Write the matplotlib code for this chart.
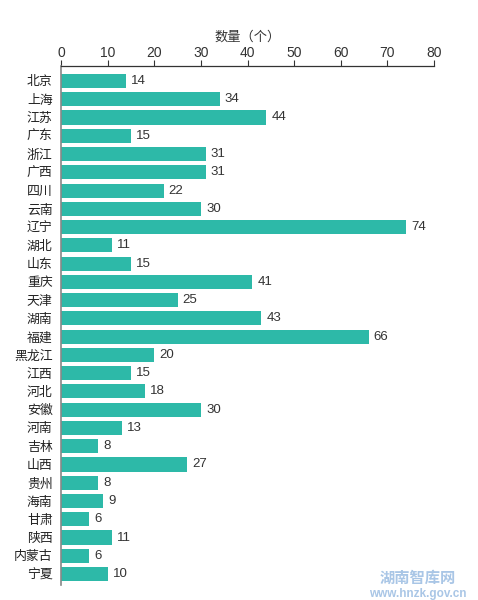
import matplotlib
matplotlib.use("Agg")
import matplotlib.pyplot as plt

plt.rcParams['font.family'] = ['Liberation Sans', 'Noto Sans CJK SC', 'DejaVu Sans']

provinces = ["北京", "上海", "江苏", "广东", "浙江", "广西", "四川", "云南", "辽宁", "湖北",
             "山东", "重庆", "天津", "湖南", "福建", "黑龙江", "江西", "河北", "安徽", "河南",
             "吉林", "山西", "贵州", "海南", "甘肃", "陕西", "内蒙古", "宁夏"]
counts = [14, 34, 44, 15, 31, 31, 22, 30, 74, 11,
          15, 41, 25, 43, 66, 20, 15, 18, 30, 13,
          8, 27, 8, 9, 6, 11, 6, 10]
xticks = [0, 10, 20, 30, 40, 50, 60, 70, 80]
xlabel = "数量（个）"

fig = plt.figure(figsize=(4.78, 6.0), dpi=100)
ax = fig.add_axes([61/478, 15/600, (434-61)/478, (585-66)/600])

y = list(range(len(provinces)))
ax.barh(y, counts, height=0.77, color="#2db9a8", zorder=2)
for yi, v in zip(y, counts):
    ax.text(v + 1.1, yi, str(v), va="center", ha="left", fontsize=9.5, color="#333333")

ax.set_ylim(len(provinces) - 1 + 0.6, -0.82)
ax.set_xlim(0, 80)
ax.set_yticks(y)
ax.set_yticklabels(provinces, fontsize=9.3, color="#222222")
ax.tick_params(axis="y", length=0, pad=6)
ax.xaxis.tick_top()
ax.xaxis.set_label_position("top")
ax.set_xticks(xticks)
ax.tick_params(axis="x", labelsize=10, length=4, width=0.8, color="#333333", labelcolor="#333333", pad=0.5)
ax.set_xlabel(xlabel, fontsize=9.5, color="#333333", labelpad=4)
ax.spines["right"].set_visible(False)
ax.spines["bottom"].set_visible(False)
ax.spines["top"].set_color("#333333")
ax.spines["top"].set_linewidth(0.9)
ax.spines["left"].set_color("#888888")
ax.spines["left"].set_linewidth(1.2)

fig.text(418/478, 1 - 579/600, "湖南智库网", ha="center", va="center", fontsize=11,
         fontweight="bold", color="#a9c6e6")
fig.text(418/478, 1 - 594/600, "www.hnzk.gov.cn", ha="center", va="center", fontsize=8.5,
         fontweight="bold", color="#a9c6e6")

fig.savefig("out.png", dpi=100)
